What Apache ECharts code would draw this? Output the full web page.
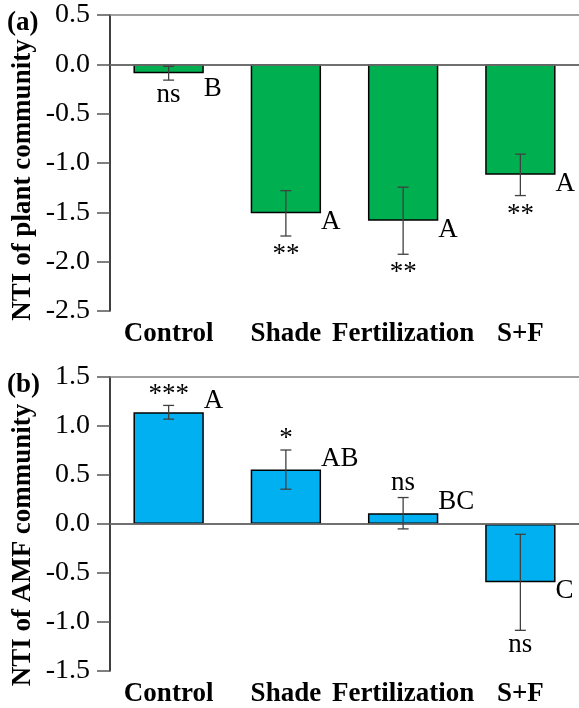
<!DOCTYPE html>
<html>
<head>
<meta charset="utf-8">
<script src="https://cdn.jsdelivr.net/npm/echarts@6/dist/echarts.min.js"></script>
<style>
  html, body { margin: 0; padding: 0; background: #fff; }
  #chart { width: 579px; height: 708px; }
</style>
</head>
<body>
<div id="chart"></div>
<script>
const categories = ['Control', 'Shade', 'Fertilization', 'S+F']

const plantMean = [-0.09, -1.51, -1.585, -1.12]
const plantSe = [0.07, 0.23, 0.34, 0.21]
const plantLetters = ['B', 'A', 'A', 'A']
const plantSig = ['ns', '**', '**', '**']

const amfMean = [1.14, 0.555, 0.11, -0.595]
const amfSe = [0.07, 0.2, 0.16, 0.49]
const amfLetters = ['A', 'AB', 'BC', 'C']
const amfSig = ['***', '*', 'ns', 'ns']

const plantTicks = { min: -2.5, max: 0.5, interval: 0.5 }
const amfTicks = { min: -1.5, max: 1.5, interval: 0.5 }

const FONT = '"Liberation Serif", "Times New Roman", serif'
const GRAY = '#808080'

const chart = echarts.init(document.getElementById('chart'))

// error bars + letters + significance marks, drawn from the axis scales
function annotate(means, ses, letters, sig) {
  return function (params, api) {
    const i = params.dataIndex
    const m = means[i]
    const e = ses[i]
    const c = api.coord([i, m])
    const hi = api.coord([i, m + e])
    const lo = api.coord([i, m - e])
    const zero = api.coord([i, 0])
    const half = api.size([1, 0])[0] * 0.3
    const cap = 5.5
    const ls = { stroke: '#404040', lineWidth: 1.3 }
    const up = m >= 0

    const letterY = up ? c[1] - 11 : Math.max(c[1] + 9, zero[1] + 25)
    const sigEnd = up ? hi[1] : lo[1]
    const star = sig[i].indexOf('*') >= 0 ? 4 : 0
    const sigY = (up ? sigEnd - 15 : sigEnd + 15) + star

    return {
      type: 'group',
      children: [
        { type: 'line', shape: { x1: c[0], y1: hi[1], x2: c[0], y2: lo[1] }, style: ls },
        { type: 'line', shape: { x1: c[0] - cap, y1: hi[1], x2: c[0] + cap, y2: hi[1] }, style: ls },
        { type: 'line', shape: { x1: c[0] - cap, y1: lo[1], x2: c[0] + cap, y2: lo[1] }, style: ls },
        {
          type: 'text',
          style: {
            text: letters[i], x: c[0] + half, y: letterY,
            align: 'left', verticalAlign: 'middle',
            font: '27px ' + FONT, fill: '#000'
          }
        },
        {
          type: 'text',
          style: {
            text: sig[i], x: c[0], y: sigY,
            align: 'center', verticalAlign: 'middle',
            font: '27px ' + FONT, fill: '#000'
          }
        }
      ]
    }
  }
}

function xAxis(gridIndex) {
  return {
    type: 'category',
    gridIndex,
    data: categories,
    axisLine: { lineStyle: { color: '#000', width: 1.5 } },
    axisTick: { inside: true, alignWithLabel: true, length: 6, lineStyle: { color: '#444', width: 1.3 } },
    axisLabel: {
      interval: 0, hideOverlap: false, margin: 10,
      color: '#000', fontFamily: FONT, fontWeight: 'bold', fontSize: 27,
    },
  }
}

function yAxis(gridIndex, t) {
  return {
    type: 'value',
    gridIndex,
    min: t.min,
    max: t.max,
    interval: t.interval,
    splitLine: { show: false },
    axisLine: { show: true, onZero: false, lineStyle: { color: '#000', width: 1.5 } },
    axisTick: { show: true, length: 13, lineStyle: { color: '#555', width: 1.5 } },
    axisLabel: {
      margin: 20, color: '#000', fontFamily: FONT, fontSize: 28,
      formatter: v => v.toFixed(1),
    },
  }
}

function bars(idx, values, color, t) {
  return {
    type: 'bar',
    xAxisIndex: idx,
    yAxisIndex: idx,
    data: values,
    barWidth: '60%',
    itemStyle: { color, borderColor: '#000', borderWidth: 1.5 },
    markLine: {
      silent: true,
      symbol: 'none',
      label: { show: false },
      lineStyle: { color: GRAY, width: 1.5, type: 'solid' },
      data: [{ yAxis: t.max }, { yAxis: 0 }],
    },
  }
}

function errs(idx, values, ses, letters, sig) {
  return {
    type: 'custom',
    xAxisIndex: idx,
    yAxisIndex: idx,
    z: 5,
    data: values.map((v, i) => [i, v]),
    renderItem: annotate(values, ses, letters, sig),
  }
}

chart.setOption({
  animation: false,
  grid: [
    { left: 110, top: 15, width: 472, height: 296 },
    { left: 110, top: 377, width: 472, height: 295 },
  ],
  xAxis: [xAxis(0), xAxis(1)],
  yAxis: [yAxis(0, plantTicks), yAxis(1, amfTicks)],
  graphic: [
    { type: 'text', x: 23, y: 180, rotation: Math.PI / 2,
      style: { text: 'NTI of plant community', align: 'center', verticalAlign: 'middle', font: 'bold 27px ' + FONT, fill: '#000' } },
    { type: 'text', x: 23, y: 545, rotation: Math.PI / 2,
      style: { text: 'NTI of AMF community', align: 'center', verticalAlign: 'middle', font: 'bold 27px ' + FONT, fill: '#000' } },
    { type: 'text', x: 7, y: 23,
      style: { text: '(a)', align: 'left', verticalAlign: 'middle', font: 'bold 27px ' + FONT, fill: '#000' } },
    { type: 'text', x: 7, y: 385,
      style: { text: '(b)', align: 'left', verticalAlign: 'middle', font: 'bold 27px ' + FONT, fill: '#000' } },
  ],
  series: [
    bars(0, plantMean, '#00B050', plantTicks),
    errs(0, plantMean, plantSe, plantLetters, plantSig),
    bars(1, amfMean, '#00B0F0', amfTicks),
    errs(1, amfMean, amfSe, amfLetters, amfSig),
  ],
})
</script>
</body>
</html>
